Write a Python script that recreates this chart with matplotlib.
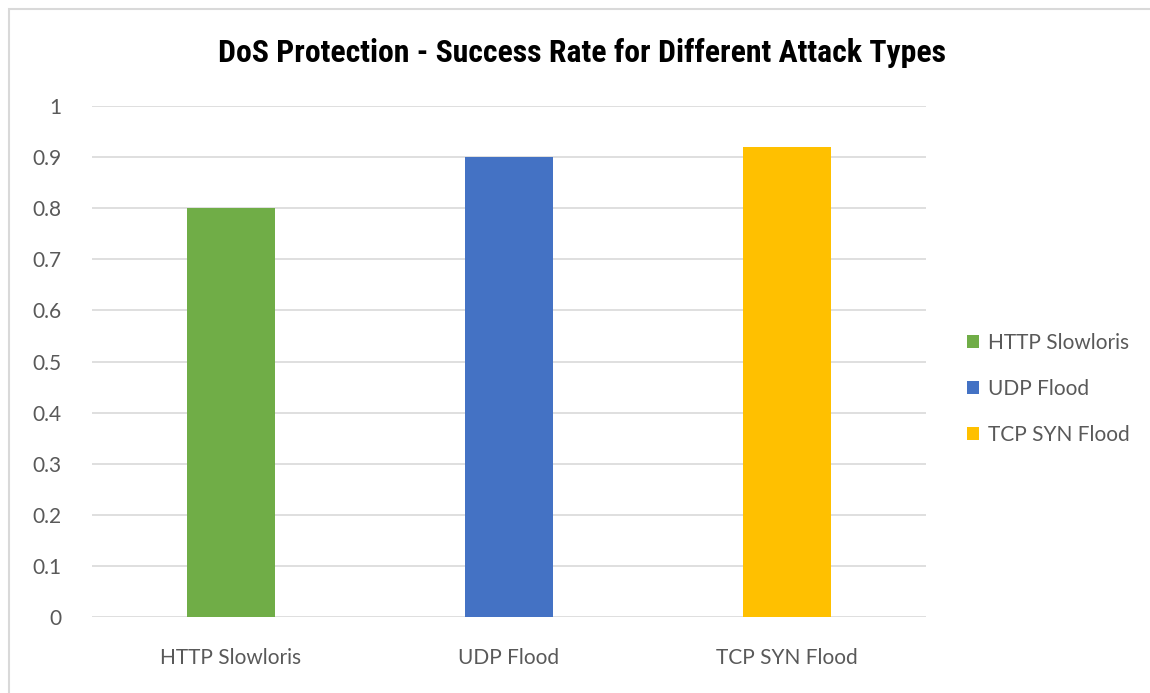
import matplotlib
matplotlib.use("Agg")
import matplotlib.pyplot as plt
from matplotlib import font_manager
from matplotlib.patches import Rectangle

# data
attacks = ['HTTP Slowloris', 'UDP Flood', 'TCP SYN Flood']
success_rate = [0.8, 0.9, 0.92]
colors = ['#70AD47', '#4472C4', '#FFC000']
y_ticks = [0, 0.1, 0.2, 0.3, 0.4, 0.5, 0.6, 0.7, 0.8, 0.9, 1]
y_labels = ['0', '0.1', '0.2', '0.3', '0.4', '0.5', '0.6', '0.7', '0.8', '0.9', '1']

plt.rcParams['font.family'] = ['Lato', 'DejaVu Sans']

# pick a condensed face for the title if one exists
names = {f.name for f in font_manager.fontManager.ttflist}
stretches = {(f.name, f.stretch) for f in font_manager.fontManager.ttflist}
title_font, title_stretch, title_size = 'DejaVu Sans', 'normal', 16.5
for cand in ['Liberation Sans Narrow', 'Roboto Condensed', 'Open Sans Condensed', 'Noto Sans Condensed']:
    if cand in names:
        title_font, title_stretch, title_size = cand, 'normal', 22.9
        break
else:
    if any(n == 'DejaVu Sans' and s == 'condensed' for n, s in stretches):
        title_stretch, title_size = 'condensed', 18.5

fig = plt.figure(figsize=(11.5, 6.93), dpi=100)
ax = fig.add_axes([0.08, 0.1097, 0.7252, 0.7373])

x = range(len(attacks))
for i, (name, val, c) in enumerate(zip(attacks, success_rate, colors)):
    ax.bar(i, val, width=0.317, color=c, label=name, zorder=3)

ax.set_xlim(-0.5, len(attacks) - 0.5)
ax.set_ylim(0, 1)
ax.set_yticks(y_ticks)
ax.set_yticklabels(y_labels)
ax.set_xticks(list(x))
ax.set_xticklabels(attacks)
ax.tick_params(axis='both', length=0, labelsize=15, colors='#595959')
ax.tick_params(axis='y', pad=22)
ax.tick_params(axis='x', pad=22)
ax.grid(axis='y', color='#D9D9D9', linewidth=1.2, zorder=0)
ax.set_axisbelow(True)
for s in ax.spines.values():
    s.set_visible(False)

leg = fig.legend(loc='center left', bbox_to_anchor=(0.8245, 0.4385), frameon=False,
                 fontsize=15, handlelength=0.6, handleheight=0.6,
                 handletextpad=0.4, labelspacing=1.25)
for t in leg.get_texts():
    t.set_color('#595959')

fig.text(0.506, 0.9235, 'DoS Protection - Success Rate for Different Attack Types',
         ha='center', va='center', fontsize=title_size, fontweight='bold',
         family=[title_font, 'DejaVu Sans'], stretch=title_stretch, color='black')

# chart frame
fig.patches.append(Rectangle((9 / 1150, -0.05), 1.2, 1 - 9 / 693 + 0.05,
                             transform=fig.transFigure, fill=False,
                             edgecolor='#D9D9D9', linewidth=1.5))

fig.savefig('out.png', dpi=100)
